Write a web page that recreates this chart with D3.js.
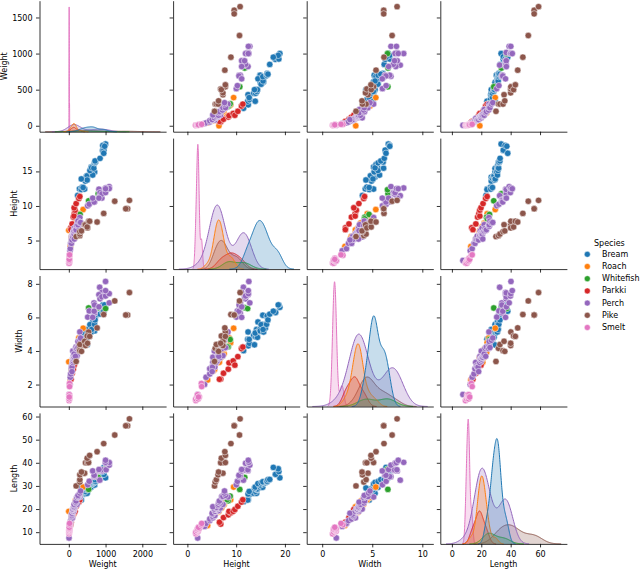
<!DOCTYPE html>
<html><head><meta charset="utf-8">
<script src="https://cdn.jsdelivr.net/npm/d3@7"></script>
<style>body{margin:0;background:#fff} text{font-family:"DejaVu Sans",sans-serif}</style>
</head><body><svg id="c" width="640" height="570"></svg>
<script>
// ---------- DATA ----------
const speciesNames = ["Bream","Roach","Whitefish","Parkki","Perch","Pike","Smelt"];
const speciesCounts = [35,20,6,11,56,17,14];
const variables = ["Weight","Height","Width","Length"];

const weight = [
 242,290,340,363,430,450,500,390,450,500,475,500,500,340,600,600,700,700,610,650,575,685,620,680,700,725,720,714,850,1000,920,955,925,975,950,
 40,69,78,87,120,0,110,120,150,145,160,140,160,169,161,200,180,290,272,390,
 270,270,306,540,800,1000,
 55,60,90,120,150,140,170,145,200,273,300,
 5.9,32,40,51.5,70,100,78,80,85,85,110,115,125,130,120,120,130,135,110,130,150,145,150,170,225,145,188,180,197,218,300,260,265,250,250,300,320,514,556,840,685,700,700,690,900,650,820,850,900,1015,820,1100,1000,1100,1000,1000,
 200,300,300,300,430,345,456,510,540,500,567,770,950,1250,1600,1550,1650,
 6.7,7.5,7,9.7,9.8,8.7,10,9.9,9.8,12.2,13.4,12.2,19.7,19.9];

const height = [
 11.52,12.48,12.3778,12.73,12.444,13.6024,14.1795,12.67,14.0049,14.2266,14.2628,14.3714,13.7592,13.9129,14.9544,15.438,14.8604,14.938,15.633,14.4738,15.1285,15.9936,15.5227,15.4686,16.2405,16.36,16.3618,16.517,16.8896,18.957,18.0369,18.084,18.7542,18.6354,17.6235,
 4.1472,5.2983,5.5756,5.6166,6.216,6.4752,6.1677,6.1146,5.8045,6.6339,7.0334,6.55,6.4,7.5344,6.9153,7.3968,7.0866,8.8768,8.568,9.485,
 8.3804,8.1454,8.778,10.744,11.7612,12.354,
 6.8475,6.5772,7.4052,8.3922,8.8928,8.5376,9.396,9.7364,10.3458,11.088,11.368,
 2.112,3.528,3.824,4.5924,4.588,5.2224,5.1992,5.6358,5.1376,5.082,5.6925,5.9175,5.6925,6.384,6.11,5.64,6.11,5.875,5.5225,5.856,6.792,5.9532,5.2185,6.275,7.293,6.375,6.7334,6.4395,6.561,7.168,8.323,7.1672,7.0516,7.2828,7.8204,7.5852,7.6156,10.03,10.2565,11.4884,10.881,10.6091,10.835,10.5717,11.1366,11.1366,12.4313,11.9286,11.73,12.3808,11.135,12.8002,11.9328,12.5125,12.604,12.4888,
 5.568,5.7078,5.9364,6.2884,7.29,6.396,7.28,6.825,7.786,6.96,7.792,7.68,8.9262,10.6863,9.6,9.6,10.812,
 1.7388,1.972,1.7284,2.196,2.0832,1.9782,2.2139,2.2139,2.2044,2.0904,2.43,2.277,2.8728,2.9322];

const width = [
 4.02,4.3056,4.6961,4.4555,5.134,4.9274,5.2785,4.69,4.8438,4.9594,5.1042,4.8146,4.368,5.0728,5.1708,5.58,5.2854,5.1975,5.1338,5.7276,5.5695,5.3704,5.2801,6.1306,5.589,6.0532,6.09,5.8515,6.1984,6.603,6.3063,6.292,6.7497,6.7473,6.3705,
 2.268,2.8217,2.9044,3.1746,3.5742,3.3516,3.3957,3.2943,3.7544,3.5478,3.8203,3.325,3.8,3.8352,3.6312,4.1272,3.906,4.4968,4.7736,5.355,
 4.2476,4.2485,4.6816,6.562,6.5736,6.525,
 2.3265,2.3142,2.673,2.9181,3.2928,3.2944,3.4104,3.1571,3.6636,4.144,4.234,
 1.408,1.9992,2.432,2.6316,2.9415,3.3216,3.1234,3.0502,3.0368,2.772,3.555,3.3075,3.6675,3.534,3.4075,3.525,3.525,3.525,3.995,3.624,3.624,3.63,3.626,3.725,3.723,3.825,4.1658,3.6835,4.239,4.144,5.1373,4.335,4.335,4.5662,4.2042,4.6354,4.7716,6.018,6.3875,7.7957,6.864,6.7408,6.2646,6.3666,7.4934,6.003,7.3514,7.1064,7.225,7.4624,6.63,6.8684,7.2772,7.4165,8.142,7.5958,
 3.3756,4.158,4.3844,4.0198,4.5765,3.977,4.3225,4.459,5.1296,4.896,4.87,5.376,6.1712,6.9849,6.144,6.144,7.48,
 1.0476,1.16,1.1484,1.38,1.2772,1.2852,1.2838,1.1659,1.1484,1.3936,1.269,1.2558,2.0672,1.8792];

const length = [
 23.2,24,23.9,26.3,26.5,26.8,26.8,27.6,27.6,28.5,28.4,28.7,29.1,29.5,29.4,29.4,30.4,30.4,30.9,31,31.3,31.4,31.5,31.8,31.9,31.8,32,32.7,32.8,33.5,35,35,36.2,37.4,38,
 12.9,16.5,17.5,18.2,18.6,19,19.1,19.4,20.4,20.5,20.5,21,21.1,22,22,22.1,23.6,24,25,29.5,
 23.6,24.1,25.6,28.5,33.7,37.3,
 13.5,14.3,16.3,17.5,18.4,19,19,19.8,21.2,23,24,
 7.5,12.5,13.8,15,15.7,16.2,16.8,17.2,17.8,18.2,19,19,19,19.3,20,20,20,20,20,20.5,20.5,20.7,21,21.5,22,22,22.6,23,23.5,25,25.2,25.4,25.4,25.4,25.9,26.9,27.8,30.5,32,32.5,34,34,34.5,34.6,36.5,36.5,36.6,36.9,37,37,37.1,39,39.8,40.1,40.2,41.1,
 30,31.7,32.7,34.8,35.5,36,40,40,40.1,42,43.2,44.8,48.3,52,56,56,59,
 9.3,10,10.1,10.4,10.7,10.8,11.3,11.3,11.4,11.5,11.7,12.1,13.2,13.8];

const xTickValues = [[0,1000,2000],[0,10,20],[0,5,10],[0,20,40,60]];
const yTickValues = [[0,500,1000,1500],[5,10,15],[2,4,6,8],[10,20,30,40,50,60]];

// ---------- STYLE / LAYOUT ----------
const palette = ["#1f77b4","#ff7f0e","#2ca02c","#d62728","#9467bd","#8c564b","#e377c2"];
const left0 = 39.5, colStep = 133.6, pw = 126.6;
const top0 = 0.7, rowStep = 137.4, ph = 131;
const fontSize = 8;

const columns = [weight, height, width, length];
const species = [];
speciesNames.forEach((s, k) => { for (let i = 0; i < speciesCounts[k]; i++) species.push(s); });
const N = species.length;
const color = d3.scaleOrdinal().domain(speciesNames).range(palette);

// KDE (seaborn-like: scott bw, cut=3, gridsize=200, common_norm)
function gauss(u) { return Math.exp(-0.5 * u * u) / Math.sqrt(2 * Math.PI); }
function kde(vals) {
  const n = vals.length;
  const bw = d3.deviation(vals) * Math.pow(n, -0.2);
  const lo = d3.min(vals) - 3 * bw, hi = d3.max(vals) + 3 * bw;
  return d3.range(200).map(i => {
    const x = lo + (hi - lo) * i / 199;
    return [x, (n / N) * d3.mean(vals, v => gauss((x - v) / bw)) / bw];
  });
}
const kdes = columns.map(col => speciesNames.map(s => ({
  s, curve: kde(col.filter((v, i) => species[i] === s))
})));

function padDomain(lo, hi) { const r = hi - lo; return [lo - 0.05 * r, hi + 0.05 * r]; }
const xDomains = columns.map((col, j) => {
  const lo = Math.min(d3.min(col), d3.min(kdes[j], k => k.curve[0][0]));
  const hi = Math.max(d3.max(col), d3.max(kdes[j], k => k.curve[k.curve.length - 1][0]));
  return padDomain(lo, hi);
});
const yDomains = columns.map(col => padDomain(d3.min(col), d3.max(col)));

const svg = d3.select("#c");

for (let i = 0; i < 4; i++) {
  for (let j = 0; j < 4; j++) {
    const g = svg.append("g").attr("transform", `translate(${left0 + j * colStep},${top0 + i * rowStep})`);
    const x = d3.scaleLinear().domain(xDomains[j]).range([0, pw]);
    const y = d3.scaleLinear().domain(yDomains[i]).range([ph, 0]);
    if (i === j) {
      const maxD = d3.max(kdes[j], k => d3.max(k.curve, p => p[1]));
      const yd = d3.scaleLinear().domain([0, maxD * 1.05]).range([ph, 0]);
      const area = d3.area().x(p => x(p[0])).y0(ph).y1(p => yd(p[1]));
      const line = d3.line().x(p => x(p[0])).y(p => yd(p[1]));
      kdes[j].slice().reverse().forEach(k => {
        g.append("path").attr("d", area(k.curve)).attr("fill", color(k.s)).attr("fill-opacity", 0.25);
        g.append("path").attr("d", line(k.curve)).attr("fill", "none").attr("stroke", color(k.s)).attr("stroke-width", 1);
      });
    } else {
      const xs = columns[j], ys = columns[i];
      g.selectAll("circle").data(d3.range(N)).join("circle")
        .attr("cx", k => x(xs[k])).attr("cy", k => y(ys[k])).attr("r", 3.2)
        .attr("fill", k => color(species[k])).attr("stroke", "#fff").attr("stroke-width", 0.5);
    }
    // axes
    const ax = g.append("g").attr("transform", `translate(0,${ph})`)
      .call(d3.axisBottom(x).tickValues(xTickValues[j]).tickSize(3.5).tickSizeOuter(0).tickPadding(3.5)
        .tickFormat(i === 3 ? d3.format("d") : ""));
    const ay = g.append("g")
      .call(d3.axisLeft(y).tickValues(yTickValues[i]).tickSize(3.5).tickSizeOuter(0).tickPadding(3.5)
        .tickFormat(j === 0 ? d3.format("d") : ""));
    [ax, ay].forEach(a => {
      a.selectAll("path.domain").attr("stroke", "#000").attr("stroke-width", 0.8);
      a.selectAll(".tick line").attr("stroke", "#000").attr("stroke-width", 0.8);
      a.selectAll("text").attr("font-size", fontSize).attr("font-family", "DejaVu Sans").attr("fill", "#000");
    });
    if (i === 3) {
      g.append("text").attr("x", pw / 2).attr("y", ph + 23).attr("text-anchor", "middle")
        .attr("font-size", fontSize).text(variables[j]);
    }
    if (j === 0) {
      const bb = ay.node().getBBox();
      const bx = bb.x - 3.5 - 2;
      g.append("text").attr("transform", `translate(${bx},${ph / 2}) rotate(-90)`)
        .attr("text-anchor", "middle").attr("font-size", fontSize).text(variables[i]);
    }
  }
}

// legend
const leg = svg.append("g");
leg.append("text").attr("x", 594).attr("y", 245.5).attr("font-size", fontSize).text("Species");
speciesNames.forEach((s, k) => {
  const cy = 254.3 + k * 12.2;
  leg.append("circle").attr("cx", 587.3).attr("cy", cy).attr("r", 3).attr("fill", color(s))
    .attr("stroke", "#fff").attr("stroke-width", 0.5);
  leg.append("text").attr("x", 602).attr("y", cy).attr("dy", "0.32em").attr("font-size", fontSize).text(s);
});
</script></body></html>
